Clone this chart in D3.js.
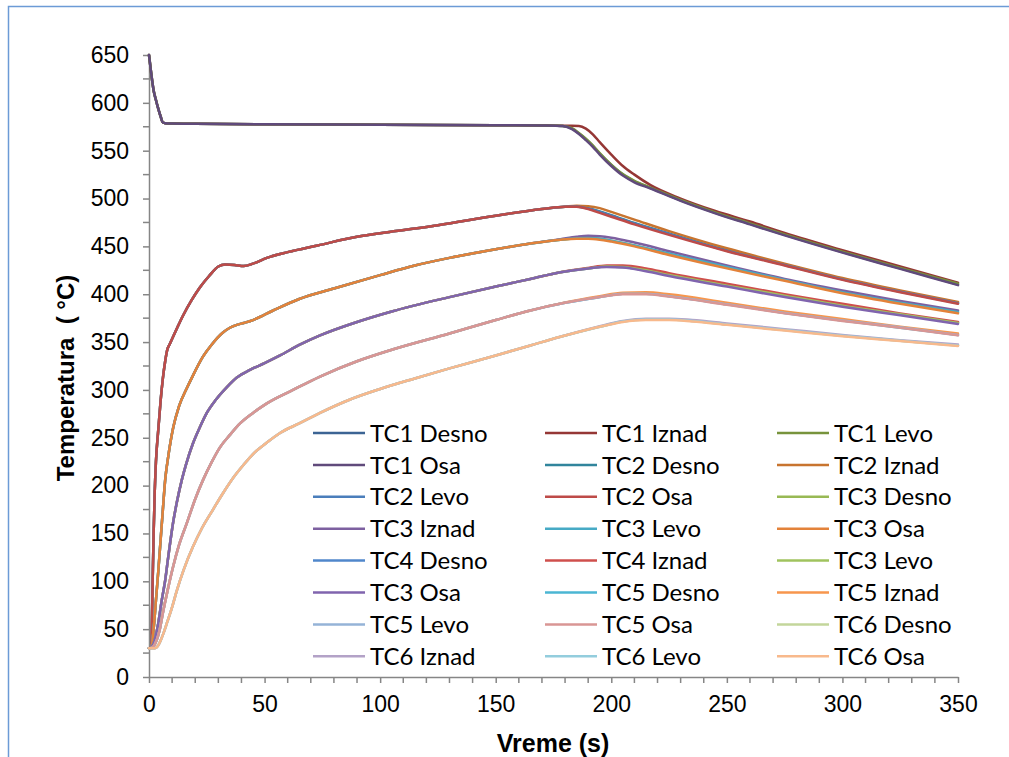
<!DOCTYPE html>
<html><head><meta charset="utf-8">
<script src="https://cdn.jsdelivr.net/npm/d3@7"></script>
<style>
html,body{margin:0;padding:0;background:#fff;}
svg{display:block;}
</style></head>
<body>
<svg id="chart" width="1009" height="757"></svg>
<script>
// ---------- DATA ----------
const seriesNames = ["TC1 Desno","TC1 Iznad","TC1 Levo","TC1 Osa","TC2 Desno","TC2 Iznad","TC2 Levo","TC2 Osa",
  "TC3 Desno","TC3 Iznad","TC3 Levo","TC3 Osa","TC4 Desno","TC4 Iznad","TC3 Levo","TC3 Osa",
  "TC5 Desno","TC5 Iznad","TC5 Levo","TC5 Osa","TC6 Desno","TC6 Iznad","TC6 Levo","TC6 Osa"];
const seriesColors = ["#3C6494","#953735","#77933C","#604A7B","#31859C","#C8742F","#4A7EBB","#BE4B48",
  "#98B954","#7D60A0","#46AAC5","#E3823A","#5087CB","#CF4F4C","#A0C35E","#8064AE",
  "#4BB6D3","#F7964D","#95B3D7","#D99694","#C3D69B","#B3A2C7","#93CDDD","#F8B98C"];
const xTicks = [0,50,100,150,200,250,300,350];
const yTicks = [0,50,100,150,200,250,300,350,400,450,500,550,600,650];

// Group TC1
const t1 = [0,0.5,1,2,3,4,5,6,7,10,20,50,100,150,170,176,179,183,186,189,192,195,200,205,210,217,230,245,260,275,300,325,350];
const tc1Desno = [650,640,630,613,603,594,586,579.5,578.8,578.5,578.2,577.6,577.1,576.6,576.3,576.1,575.8,573,568,562,555,547,535,525,518,511,498,485,473.5,462,444,427,410];
const tc1Iznad = [650,640,630,613,603,594,586,579.5,578.8,578.5,578.2,577.6,577.1,576.6,576.3,576.1,576,576,575.8,573,567,559,546,534,525,514,500,487,476,464,446,429,412];
const tc1Levo  = [650,640,630,613,603,594,586,579.5,578.8,578.5,578.2,577.6,577.1,576.6,576.3,576.1,575.9,573.5,568.5,562.5,555.5,547.5,535.5,525.5,518.5,511.5,498.5,485.5,474,462.5,444.5,427.5,411];
const tc1Osa   = [650,640,630,613,603,594,586,579.5,578.8,578.5,578.2,577.6,577.1,576.6,576.3,576.1,575.7,572.5,567.5,561,554,546,534,524,517,510.5,497.5,484.5,473,461.5,443.5,426.5,409.5];

// Group TC2
const t2 = [0,1,1.5,2,2.5,3,4,5,6,7,7.8,9,10.5,12.5,14.8,18.5,22,26,30,33,37,41,45,51,60,73,90,104,125,150,170,180,185,190,195,200,210,225,250,275,300,325,350];
const tc2Desno = [30,32,90,150,195,225,258,288,312,330,341,348,356,366.5,378,394,407,419,429,431,430.5,429.5,432,438,444,451,460,465,472,482,489,491.5,491.8,490,486.5,482.5,474.5,463.5,446,431,416,403,391];
const tc2Iznad = [30,32,90,150,195,225,258,288,312,330,341,348,356,366.5,378,394,407,419,429,431,430.5,429.5,432,438,444,451,460,465,472,482,489,491.5,492.5,492,490,486,478,466,448,432,417,404,392];
const tc2Levo  = [30,32,90,150,195,225,258,288,312,330,341,348,356,366.5,378,394,407,419,429,431,430.5,429.5,432,438,444,451,460,465,472,482,489,491.5,491.6,489.5,486,482,474,463,445.5,430.5,415.5,402.5,390.5];
const tc2Osa   = [30,32,90,150,195,225,258,288,312,330,341,348,356,366.5,378,394,407,419,429,431,430.5,429.5,432,438,444,451,460,465,472,482,489,491.5,491.5,489,485,481,473,462,445,430,415,402,390];

// Group TC3
const t3 = [0,1,2,3,4,4.8,6,7,8.3,10.5,13,16.4,19,23.4,27,32,35,38,41,45,53.7,65,80,100,115,130,150,165,178,185,190,195,200,210,225,250,275,300,325,350];
const tc3Desno = [30,31,50,80,110,136,175,206,230,261,283,302,315,335,347,360,365,368,370,373,383,395,406,420,430,438,447,453,457,458.5,459,458,456,451,442,428,415,402,391,381];
const tc3Iznad = [30,31,50,80,110,136,175,206,230,261,283,302,315,335,347,360,365,368,370,373,383,395,406,420,430,438,447,453,457.5,460,461,460.5,459,454,445,430,416,404,393,383];
const tc3Levo  = [30,31,50,80,110,136,175,206,230,261,283,302,315,335,347,360,365,368,370,373,383,395,406,420,430,438,447,453,457,458.5,458.8,458,456,451,442.5,428.5,415,402,391,381.5];
const tc3Osa   = [30,31,50,80,110,136,175,206,230,261,283,302,315,335,347,360,365,368,370,373,383,395,406,420,430,438,447,453,457,458,458,457,455,450,441,427,414,401,390,380];

// Group TC4 (legend labels as in the original)
const t4 = [0,1,2,3,4,5.5,7,8.3,10.4,12,14.2,16,19,22,25,29,33.7,38,43.7,50,56.7,65,74,90,105,130,150,165,178,190,198,205,215,225,250,275,300,325,350];
const tc4Desno = [30,31,35,44,56,80,101,125,161,182,206,222,244,261,276,290,303,313,321,328,336,347,357,371,382,397,408,416,423,427,429,428.5,425,420,409,398,388,379,370];
const tc4Iznad = [30,31,35,44,56,80,101,125,161,182,206,222,244,261,276,290,303,313,321,328,336,347,357,371,382,397,408,416,423,427.5,430,430,427,422,411,400,390,380,371];
const tc4Levo  = [30,31,35,44,56,80,101,125,161,182,206,222,244,261,276,290,303,313,321,328,336,347,357,371,382,397,408,416,423,427,429,428.5,425,420,409,398.5,388,379,370];
const tc4Osa   = [30,31,35,44,56,80,101,125,161,182,206,222,244,261,276,290,303,313,321,328,336,347,357,371,382,397,408,416,423,427,428.5,428,424,419,408,397,387,378,369];

// Group TC5
const t5 = [0,1,2,3.4,4.5,6,8,10.4,13,16.4,20,23.4,27,30.7,35,39.4,45,51,62.3,74,90,105,130,150,165,180,195,205,215,225,250,275,300,325,350];
const tc5Desno = [30,30.5,32,39,48,67,90,115,138,161,186,206,224,240,253,265,276,286,300,314,330,342,359,373,383,391,397,400.5,400.5,398,389.5,380.5,372.5,365,357.5];
const tc5Iznad = [30,30.5,32,39,48,67,90,115,138,161,186,206,224,240,253,265,276,286,300,314,330,342,359,373,383,391.5,398,401.5,402,400,391,382,374,366,359];
const tc5Levo  = [30,30.5,32,39,48,67,90,115,138,161,186,206,224,240,253,265,276,286,300,314,330,342,359,373,383,391,397,400.5,400.5,398,389.5,380.5,372.5,365.5,357.5];
const tc5Osa   = [30,30.5,32,39,48,67,90,115,138,161,186,206,224,240,253,265,276,286,300,314,330,342,359,373,383,391,397,400,400,397.5,389,380,372,365,357];

// Group TC6
const t6 = [0,1,1.8,3,4,5,6,7.7,10,12,15,19,23,27.7,32,37,41,45,51,56.7,65,74,87,100,115,130,150,165,178,195,205,215,225,235,250,275,300,325,350];
const tc6Desno = [30,30,30,30.5,33,38,44,56,73,90,112,136,156,175,192,210,222,233,245,255,265,276,290,301,312,322.5,336,346.5,355.5,366,371.5,373.5,373.5,372,368.5,362.5,356.5,351.5,346.5];
const tc6Iznad = [30,30,30,30.5,33,38,44,56,73,90,112,136,156,175,192,210,222,233,245,255,265,276,290,301,312,322.5,336,346.5,355.5,366.5,372,374.5,374.5,373,369.5,363.5,357.5,352,347.5];
const tc6Levo  = [30,30,30,30.5,33,38,44,56,73,90,112,136,156,175,192,210,222,233,245,255,265,276,290,301,312,322.5,336,346.5,355.5,366,371.5,373.5,373.5,372,368.5,362.5,356.5,351.5,346.5];
const tc6Osa   = [30,30,30,30.5,33,38,44,56,73,90,112,136,156,175,192,210,222,233,245,255,265,276,290,301,312,322.5,336,346.5,355.5,366,371,373,373,371.5,368,362,356,351,346];

// series table (in legend/draw order)
const seriesTimes = [t1,t1,t1,t1,t2,t2,t2,t2,t3,t3,t3,t3,t4,t4,t4,t4,t5,t5,t5,t5,t6,t6,t6,t6];
const seriesValues = [tc1Desno,tc1Iznad,tc1Levo,tc1Osa,tc2Desno,tc2Iznad,tc2Levo,tc2Osa,
  tc3Desno,tc3Iznad,tc3Levo,tc3Osa,tc4Desno,tc4Iznad,tc4Levo,tc4Osa,
  tc5Desno,tc5Iznad,tc5Levo,tc5Osa,tc6Desno,tc6Iznad,tc6Levo,tc6Osa];

// ---------- CHART ----------
const svg = d3.select("#chart");
const axisColor = "#868686";
const x = d3.scaleLinear().domain([0,350]).range([149,958]);
const y = d3.scaleLinear().domain([0,650]).range([677,55]);

// outer frame
svg.append("rect").attr("x",8.5).attr("y",6.5).attr("width",1200).attr("height",1000)
  .attr("fill","none").attr("stroke","#6C9BD6").attr("stroke-width",1.5);

// minor ticks
const yMinor = d3.range(25,650,50);
svg.append("g").selectAll("line").data(yMinor).join("line")
  .attr("x1",143).attr("x2",149).attr("y1",d=>y(d)).attr("y2",d=>y(d))
  .attr("stroke",axisColor).attr("stroke-width",1.5);
const xMinor = d3.range(10,350,10).filter(v=>v%50!==0);
svg.append("g").selectAll("line").data(xMinor).join("line")
  .attr("y1",677).attr("y2",683).attr("x1",d=>x(d)).attr("x2",d=>x(d))
  .attr("stroke",axisColor).attr("stroke-width",1.5);

// axes
const yAxis = svg.append("g").attr("transform","translate(149,0)")
  .call(d3.axisLeft(y).tickValues(yTicks).tickSize(6).tickSizeOuter(0).tickPadding(14).tickFormat(d3.format("d")));
const xAxis = svg.append("g").attr("transform","translate(0,677)")
  .call(d3.axisBottom(x).tickValues(xTicks).tickSize(6).tickSizeOuter(0).tickPadding(13).tickFormat(d3.format("d")));
[yAxis,xAxis].forEach(g=>{
  g.select(".domain").attr("stroke",axisColor).attr("stroke-width",1.5);
  g.selectAll(".tick line").attr("stroke",axisColor).attr("stroke-width",1.5);
  g.selectAll(".tick text").attr("fill","#000").style("font-family","'Liberation Sans', Arial, sans-serif").style("font-size","23px");
});

// lines
const line = d3.line().curve(d3.curveMonotoneX).x(d=>x(d[0])).y(d=>y(d[1]));
const plot = svg.append("g");
seriesNames.forEach((name,i)=>{
  const pts = seriesTimes[i].map((t,j)=>[t, seriesValues[i][j]]);
  plot.append("path").datum(pts).attr("d",line)
    .attr("fill","none").attr("stroke",seriesColors[i]).attr("stroke-width",2.5)
    .attr("stroke-linejoin","round").attr("stroke-linecap","round");
});

// legend
const legCols = [313,545,777];
const legRow0 = 433, legDy = 31.9;
const leg = svg.append("g");
seriesNames.forEach((name,i)=>{
  const c = i%3, r = Math.floor(i/3);
  const lx = legCols[c], ly = legRow0 + r*legDy;
  leg.append("line").attr("x1",lx).attr("x2",lx+52).attr("y1",ly).attr("y2",ly)
    .attr("stroke",seriesColors[i]).attr("stroke-width",2.5);
  leg.append("text").attr("x",lx+57).attr("y",ly).attr("dy","0.36em")
    .style("font-family","Lato, 'Open Sans', sans-serif").style("font-size","24px")
    .attr("fill","#000").text(name);
});

// axis titles
svg.append("text").attr("x",553).attr("y",752).attr("text-anchor","middle")
  .style("font-family","'Liberation Sans', Arial, sans-serif").style("font-weight","bold").style("font-size","25px")
  .text("Vreme (s)");
svg.append("text").attr("transform","translate(74,378) rotate(-90)").attr("text-anchor","middle")
  .attr("xml:space","preserve").style("white-space","pre")
  .style("font-family","'Liberation Sans', Arial, sans-serif").style("font-weight","bold").style("font-size","24px")
  .text("Temperatura  ( °C)");
</script>
</body></html>
